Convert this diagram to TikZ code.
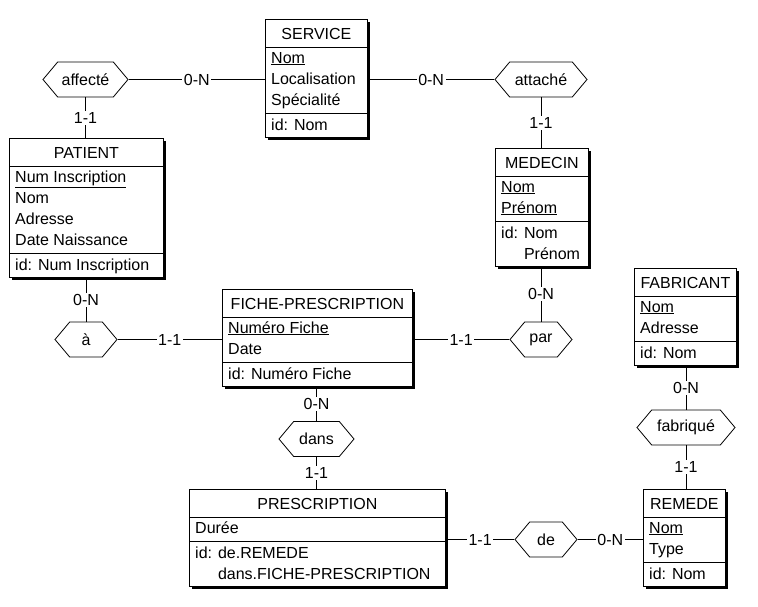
\documentclass[tikz,border=0pt]{standalone}
\usepackage{fontspec}
\setmainfont{Liberation Sans}
\usetikzlibrary{shapes.symbols,shadows,calc}
\tikzset{
  every node/.style={font=\fontsize{16}{19}\selectfont},
  entbox/.style={draw, fill=white, line width=0.8pt, inner sep=0pt,
    drop shadow={shadow xshift=2.5pt, shadow yshift=-2.5pt, fill=black, opacity=1}},
  sepline/.style={line width=0.8pt},
  etitle/.style={inner sep=0pt},
  attr/.style={inner sep=0pt},
  rel/.style={draw, fill=white, line width=0.8pt, shape=signal, signal to=east and west,
    signal pointer angle=100, minimum height=35pt, inner sep=0pt},
  conn/.style={line width=0.8pt},
  card/.style={fill=white, inner sep=1.5pt},
}
% name, left, top, width, n1, n2, title, attrs, ids
\newcommand{\erent}[9]{%
  \pgfmathsetmacro\hB{21*#5+3}%
  \pgfmathsetmacro\hC{21*#6+3}%
  \pgfmathsetmacro\hH{28+\hB+\hC}%
  \node[entbox, minimum width=#4pt, minimum height=\hH pt, anchor=north west] (#1) at (#2,#3) {};
  \node[etitle, anchor=base] (#1-t) at ($(#1.north)+(0,20.5)$) {#7};
  \draw[sepline] (#2,#3+28) -- ++(#4,0);
  \draw[sepline] (#2,#3+28+\hB) -- ++(#4,0);
  \foreach \xx [count=\ii] in {#8} {\node[attr, anchor=base west] (#1-a\ii) at (#2+6,#3+28+16+21*\ii-21) {\xx};}
  \foreach \xx [count=\ii] in {#9} {\node[attr, anchor=base west] (#1-i\ii) at (#2+6,#3+28+\hB+17+21*\ii-21) {\xx};}
}
\begin{document}
\begin{tikzpicture}[x=1pt,y=-1pt]
\useasboundingbox (0,0) rectangle (758,606);
\fill[white] (0,0) rectangle (758,606);

\erent{service}{265}{19}{102}{3}{1}{SERVICE}{\underline{Nom},Localisation,Spécialité}{id: Nom}
\erent{patient}{9}{138}{154}{4}{1}{PATIENT}{\underline{Num Inscription},Nom,Adresse,Date Naissance}{id: Num Inscription}
\erent{medecin}{495}{148}{93}{2}{2}{MEDECIN}{\underline{Nom},\underline{Prénom}}{id: Nom,\phantom{id: }Prénom}
\erent{fabricant}{634}{268}{102}{2}{1}{FABRICANT}{\underline{Nom},Adresse}{id: Nom}
\erent{fiche}{222}{289}{190}{2}{1}{FICHE-PRESCRIPTION}{\underline{Numéro Fiche},Date}{id: Numéro Fiche}
\erent{prescription}{189}{489}{256}{1}{2}{PRESCRIPTION}{Durée}{id: de.REMEDE,\phantom{id: }dans.FICHE-PRESCRIPTION}
\erent{remede}{643}{489}{82}{2}{1}{REMEDE}{\underline{Nom},Type}{id: Nom}

\node[rel, minimum width=85pt] (affecte) at (85.5,79.5) {affecté};
\node[rel, minimum width=92pt] (attache) at (541,79.5) {attaché};
\node[rel, minimum width=62pt] (a) at (86,339.5) {à};
\node[rel, minimum width=62pt] (par) at (541,339.5) {par};
\node[rel, minimum width=75pt] (dans) at (316.5,439) {dans};
\node[rel, minimum width=98pt] (fabrique) at (686,427.5) {fabriqué};
\node[rel, minimum width=62pt] (de) at (546,539.5) {de};

\draw[conn] (affecte.east) -- node[card] {0-N} (affecte.east -| service.west);
\draw[conn] (affecte.south) -- node[card] {1-1} (affecte.south |- patient.north);
\draw[conn] (attache.west) -- node[card] {0-N} (attache.west -| service.east);
\draw[conn] (attache.south) -- node[card] {1-1} (attache.south |- medecin.north);
\draw[conn] (a.north) -- node[card] {0-N} (a.north |- patient.south);
\draw[conn] (a.east) -- node[card] {1-1} (a.east -| fiche.west);
\draw[conn] (par.north) -- node[card] {0-N} (par.north |- medecin.south);
\draw[conn] (par.west) -- node[card] {1-1} (par.west -| fiche.east);
\draw[conn] (dans.north) -- node[card] {0-N} (dans.north |- fiche.south);
\draw[conn] (dans.south) -- node[card] {1-1} (dans.south |- prescription.north);
\draw[conn] (fabrique.north) -- node[card] {0-N} (fabrique.north |- fabricant.south);
\draw[conn] (fabrique.south) -- node[card] {1-1} (fabrique.south |- remede.north);
\draw[conn] (de.west) -- node[card] {1-1} (de.west -| prescription.east);
\draw[conn] (de.east) -- node[card] {0-N} (de.east -| remede.west);
\end{tikzpicture}
\end{document}
